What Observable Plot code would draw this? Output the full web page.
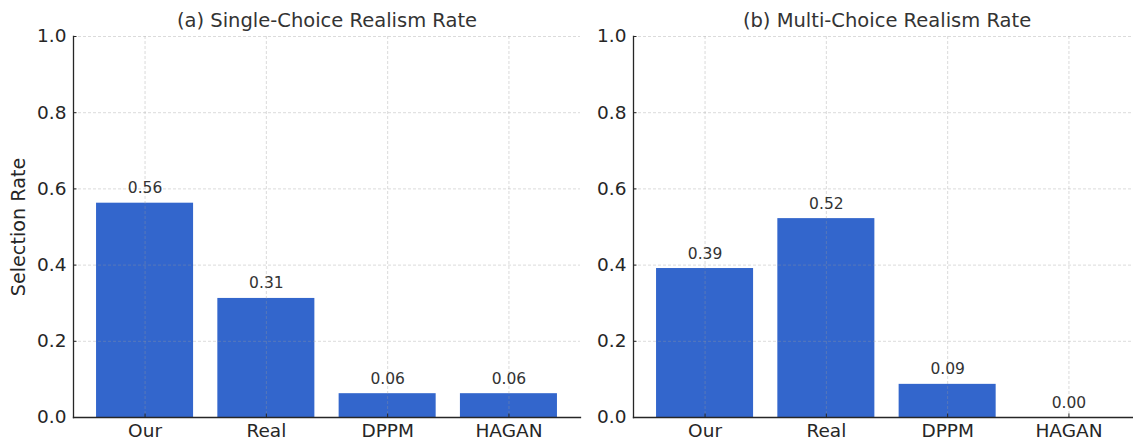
<!DOCTYPE html>
<html>
<head>
<meta charset="utf-8">
<script src="https://cdn.jsdelivr.net/npm/d3@7"></script>
<script src="https://cdn.jsdelivr.net/npm/@observablehq/plot@0.6"></script>
<style>
  html, body { margin: 0; padding: 0; background: #fff; }
  #wrap { position: relative; width: 1133px; height: 440px; overflow: hidden; background: #fff; }
  #wrap > div { position: absolute; top: 0; width: 600px; height: 440px; }
  #wrap svg { max-width: none !important; }
</style>
</head>
<body>
<div id="wrap"><div id="left"></div><div id="right"></div></div>
<script>
const categories = ["Our", "Real", "DPPM", "HAGAN"];
const singleChoice = [0.5625, 0.3125, 0.0625, 0.0625];
const multiChoice = [0.391, 0.522, 0.087, 0.0];
const yTicks = [0, 0.2, 0.4, 0.6, 0.8, 1.0];
const titles = ["(a) Single-Choice Realism Rate", "(b) Multi-Choice Realism Rate"];
const yLabel = "Selection Rate";

const fmt2 = d3.format(".2f");
const barColor = "#3366cc";
const gridStyle = {stroke: "#999", strokeOpacity: 0.45, strokeDasharray: "3,2", strokeWidth: 0.8};

function panel(values, title, showLabel) {
  const data = categories.map((c, i) => ({cat: c, value: values[i]}));
  return Plot.plot({
    width: 600,
    height: 440,
    marginLeft: 73,
    marginRight: 20,
    marginTop: 36,
    marginBottom: 23,
    style: {fontFamily: "DejaVu Sans", color: "#262626", background: "transparent", overflow: "visible", maxWidth: "none"},
    x: {domain: categories, paddingInner: 0.2, paddingOuter: 0.19, round: false, label: null},
    y: {domain: [0, 1], label: null},
    marks: [
      Plot.barY(data, {x: "cat", y: "value", fill: barColor}),
      Plot.gridX(categories, gridStyle),
      Plot.gridY(yTicks.slice(1), gridStyle),
      Plot.text(data, {x: "cat", y: "value", text: d => fmt2(d.value), lineAnchor: "bottom", dy: -10, fontSize: 15.5, fill: "#333"}),
      Plot.frame({anchor: "left", stroke: "#262626", strokeWidth: 1.3}),
      Plot.frame({anchor: "bottom", stroke: "#262626", strokeWidth: 1.3}),
      Plot.axisX(categories, {tickSize: -3.5, tickPadding: 10, fontSize: 18.5, label: null, stroke: "#262626"}),
      Plot.axisY(yTicks, {tickSize: -3.5, tickPadding: 10.5, fontSize: 18.5, tickFormat: d3.format(".1f"),
        label: null, stroke: "#262626"}),
      showLabel ? Plot.text([yLabel], {frameAnchor: "left", textAnchor: "middle", rotate: -90, dx: -55, fontSize: 19.2, fill: "#262626"}) : null,
      Plot.text([title], {frameAnchor: "top", lineAnchor: "bottom", dy: -10, fontSize: 19.5, fill: "#333"})
    ]
  });
}

const left = document.getElementById("left");
left.style.left = "0px";
left.appendChild(panel(singleChoice, titles[0], true));
const right = document.getElementById("right");
right.style.left = "560px";
right.appendChild(panel(multiChoice, titles[1], false));
</script>
</body>
</html>
